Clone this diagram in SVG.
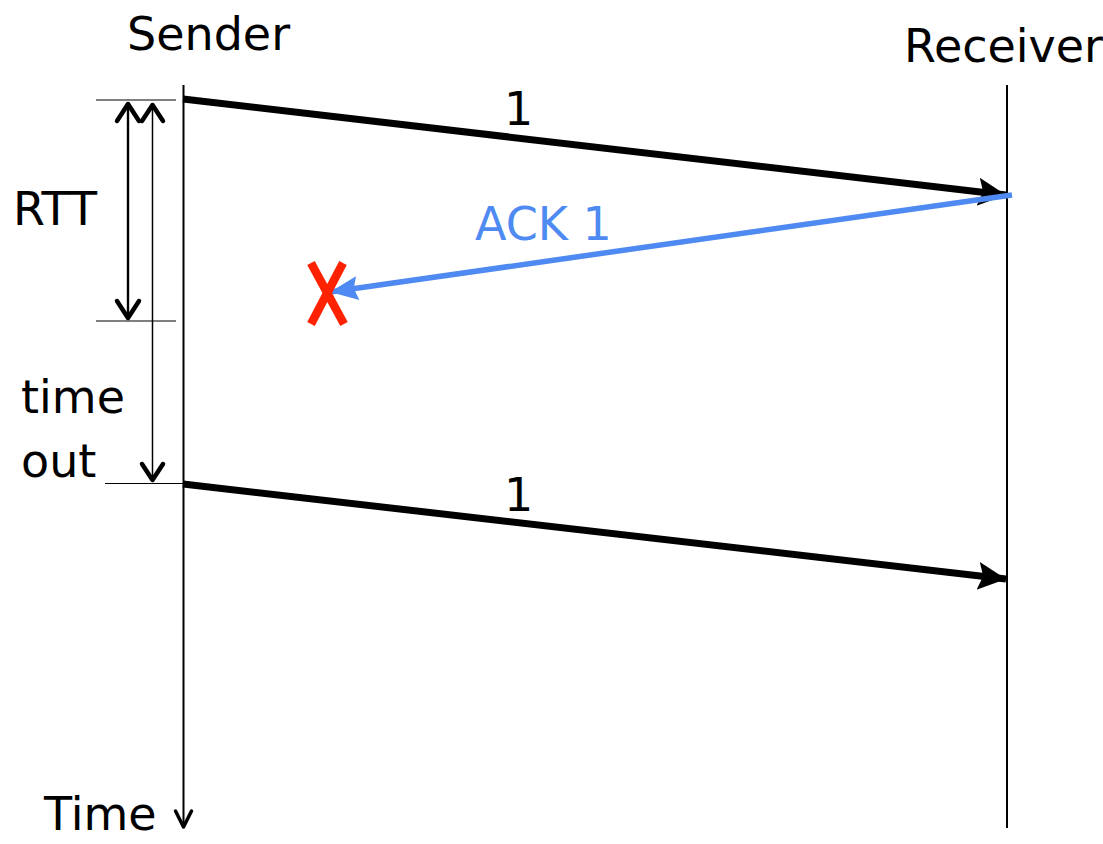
<svg xmlns="http://www.w3.org/2000/svg" width="1103" height="844" viewBox="0 0 1103 844">
<style>
text{font-family:"DejaVu Sans",sans-serif;font-size:46px;fill:#000}
.ack{fill:#4f8af2}
.thin{stroke:#000;stroke-width:1.2;fill:none}
.life{stroke:#000;stroke-width:2;fill:none}
.open{stroke:#000;fill:none;stroke-linecap:round;stroke-linejoin:round}
</style>
<defs>
<marker id="fillB" markerUnits="userSpaceOnUse" markerWidth="32" markerHeight="32" refX="28" refY="14" orient="auto" viewBox="0 0 32 28"><path d="M0,0 L28,14 L0,28 L5,14 Z" fill="#000"/></marker>
<marker id="fillA" markerUnits="userSpaceOnUse" markerWidth="32" markerHeight="32" refX="28" refY="12" orient="auto" viewBox="0 0 32 24"><path d="M0,0 L28,12 L0,24 L4,12 Z" fill="#4f8af2"/></marker>
</defs>
<g id="sender">
<text x="127" y="50">Sender</text>
<line class="life" x1="183.5" y1="85" x2="183.5" y2="828"/>
<polyline class="open" stroke-width="3.5" points="175.5,811 183.5,827 191.5,811"/>
<text x="44" y="830">Time</text>
</g>
<g id="receiver">
<text x="904" y="62">Receiver</text>
<line class="life" x1="1007" y1="85" x2="1007" y2="828"/>
</g>
<g id="timing">
<line class="thin" x1="96" y1="100" x2="176" y2="100"/>
<line class="thin" x1="96" y1="321" x2="176" y2="321"/>
<line class="thin" x1="105" y1="483.5" x2="183" y2="483.5"/>
<line stroke="#000" stroke-width="2.4" x1="128" y1="103" x2="128" y2="318"/>
<polyline class="open" stroke-width="4.5" points="117,121 128,104 139,121"/>
<polyline class="open" stroke-width="4.5" points="117,301 128,318 139,301"/>
<line stroke="#000" stroke-width="1.5" x1="152.5" y1="103" x2="152.5" y2="481"/>
<polyline class="open" stroke-width="4.5" points="142,121 152.5,105 163,121"/>
<polyline class="open" stroke-width="4.5" points="142,464 152.5,480 163,464"/>
<text x="13" y="225">RTT</text>
<text x="21" y="413">time</text>
<text x="21" y="477">out</text>
</g>
<g id="connectors">
<line stroke="#000" stroke-width="7" x1="183" y1="99" x2="1006" y2="195" marker-end="url(#fillB)"/>
<line stroke="#000" stroke-width="7" x1="183" y1="484" x2="1006" y2="579" marker-end="url(#fillB)"/>
<line stroke="#4f8af2" stroke-width="5.5" x1="1012" y1="195" x2="330" y2="292" marker-end="url(#fillA)"/>
</g>
<g id="labels">
<text x="504" y="125">1</text>
<text x="504" y="511">1</text>
<text class="ack" x="475" y="240">ACK 1</text>
</g>
<g id="lost">
<line stroke="#ff2200" stroke-width="8.5" x1="311" y1="263" x2="344" y2="324"/>
<line stroke="#ff2200" stroke-width="8.5" x1="343" y1="263" x2="311" y2="324"/>
</g>
</svg>
